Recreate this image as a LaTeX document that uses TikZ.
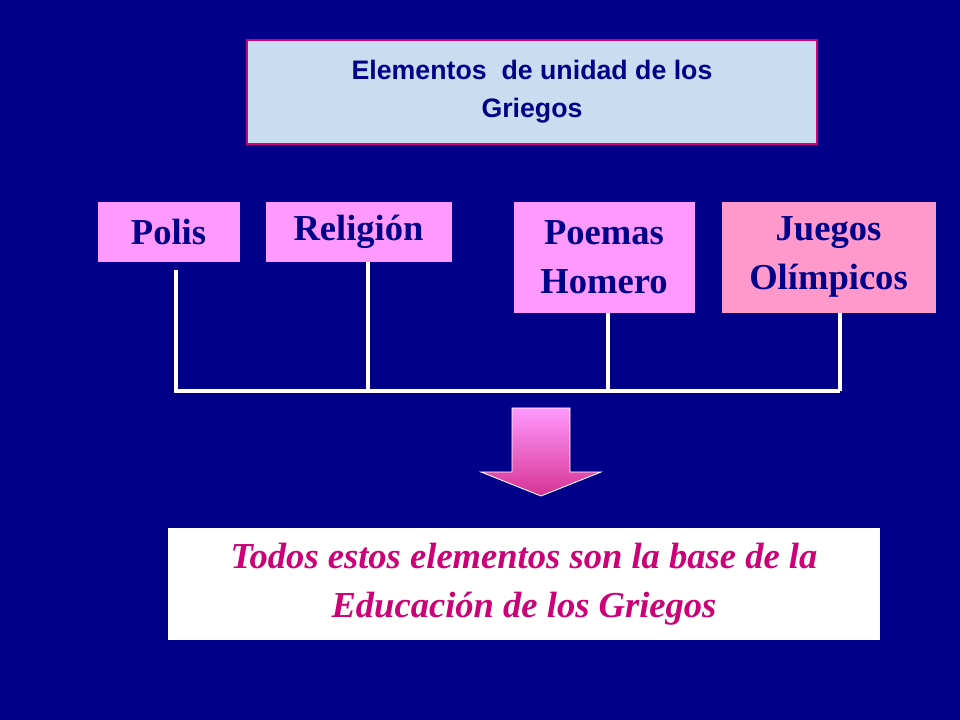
\documentclass[tikz,border=0pt]{standalone}
\usepackage{fontspec}
\setmainfont{Liberation Serif}
\setsansfont{Liberation Sans}
\definecolor{fondo}{HTML}{000088}
\definecolor{rosa}{HTML}{FF99FF}
\definecolor{rosaclaro}{HTML}{FF99CC}
\definecolor{magenta}{HTML}{CC0077}
\definecolor{celeste}{HTML}{C8DDF0}
\tikzset{
	elemento/.style={draw=fondo, fill=rosa, text=fondo, font=\bfseries\fontsize{26}{35}\selectfont, align=center, inner sep=0pt},
	union/.style={white, line width=2.2pt}
}
\begin{document}
\begin{tikzpicture}[x=0.025cm, y=-0.025cm]
	
	\fill [fondo] (0,0) rectangle (960,720);
	
	\node [draw=magenta, line width=1.6pt, fill=celeste, text=fondo, align=center, minimum width=570*0.025cm, minimum height=104*0.025cm, font=\sffamily\bfseries\fontsize{19}{27}\selectfont] (titulo) at (532,92) {Elementos\ \ de unidad de los\\Griegos};
	
	\node [elemento, minimum width=143*0.025cm, minimum height=61*0.025cm] (polis) at (168.5,231.5) {Polis};
	\node [elemento, minimum width=187*0.025cm, minimum height=61*0.025cm] (religion) at (358.5,231.5) {Religión};
	\node [elemento, minimum width=182*0.025cm, minimum height=112*0.025cm] (poemas) at (604,257) {Poemas\\Homero};
	\node [elemento, fill=rosaclaro, minimum width=215*0.025cm, minimum height=112*0.025cm] (juegos) at (828.5,257) {Juegos\\Olímpicos};
	
	\coordinate (a) at (176,391);
	\coordinate (b) at (368,391);
	\coordinate (c) at (608,391);
	\coordinate (d) at (840,391);
	
	\draw [union] (176,270) -- (a) -- (d);
	\draw [union] (b) -- (b |- religion.south);
	\draw [union] (c) -- (c |- poemas.south);
	\draw [union] (d) -- (d |- juegos.south);
	
	\shade [top color=rosa, bottom color=magenta!80, draw=white, line width=0.6pt] (512,408) -- (570,408) -- (570,472) -- (601,472) -- (541,496) -- (481,472) -- (512,472) -- cycle;
	
	\node [fill=white, text=magenta, align=center, minimum width=712*0.025cm, minimum height=112*0.025cm, font=\bfseries\itshape\fontsize{26}{35}\selectfont] (base) at (524,584) {Todos estos elementos son la base de la\\Educación de los Griegos};
	
\end{tikzpicture}
\end{document}
